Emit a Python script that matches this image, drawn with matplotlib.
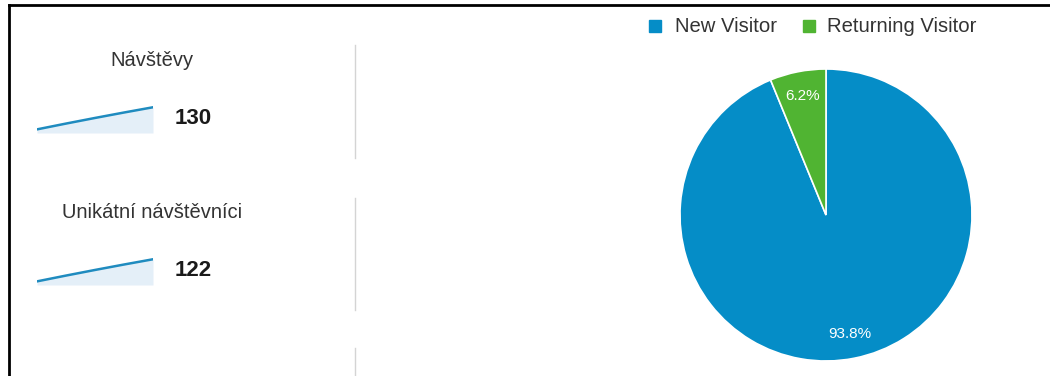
import matplotlib.pyplot as plt
from matplotlib.lines import Line2D
from matplotlib.patches import Rectangle

# data
metric_names = ['Návštěvy', 'Unikátní návštěvníci']
metric_totals = [130, 122]
spark_visits = [2, 5.2, 8.3, 11.3, 14.2]
spark_unique = [2, 5.2, 8.3, 11.3, 14.2]
visitor_types = ['New Visitor', 'Returning Visitor']
visitor_share = [93.8, 6.2]
colors = ['#058dc7', '#50b432']

plt.rcParams['font.family'] = ['Liberation Sans', 'DejaVu Sans']

W, H = 1050, 376
fig = plt.figure(figsize=(W / 100, H / 100), dpi=100)
fig.patch.set_facecolor('white')


def fx(px):
    return px / W


def fy(py):
    return 1 - py / H


# frame on top and left
fig.add_artist(Line2D([fx(9), 1], [fy(5), fy(5)], color='black', lw=2))
fig.add_artist(Line2D([fx(9), fx(9)], [fy(5), 0], color='black', lw=2))

# grey separators
for y0, y1 in [(45, 158), (198, 310), (348, 376)]:
    fig.add_artist(Line2D([fx(355), fx(355)], [fy(y0), fy(y1)], color='#d4d4d4', lw=1))

# sparkline blocks
rows = [(60, 118, 133), (212, 270, 285)]
for name, total, series, (ty, vy, sb) in zip(metric_names, metric_totals,
                                             [spark_visits, spark_unique], rows):
    fig.text(fx(152), fy(ty), name, ha='center', va='center', fontsize=14.5, color='#333333')
    fig.text(fx(175), fy(vy), str(total), ha='left', va='center', fontsize=16,
             fontweight='bold', color='#1a1a1a')
    sax = fig.add_axes([fx(37), fy(sb), fx(153) - fx(37), fy(sb - 29) - fy(sb)])
    x = range(len(series))
    sax.fill_between(x, series, 0, color='#e4eff8', lw=0)
    sax.plot(x, series, color='#1f8bbf', lw=1.8, solid_capstyle='round')
    sax.set_xlim(0, len(series) - 1)
    sax.set_ylim(0, 16)
    sax.axis('off')

# pie
cx, cy, r = 826, 215, 146
pax = fig.add_axes([fx(cx - r), fy(cy + r), 2 * r / W, 2 * r / H])
pax.pie(visitor_share, colors=colors, startangle=90, counterclock=False,
        autopct='%1.1f%%', pctdistance=0.83,
        wedgeprops=dict(edgecolor='white', linewidth=1.2),
        textprops=dict(color='white', fontsize=11))
pax.set_xlim(-1, 1)
pax.set_ylim(-1, 1)
pax.set_aspect('equal')
pax.axis('off')

# legend
legend_items = [(649, 675), (803, 827)]
for (sx, tx), label, c in zip(legend_items, visitor_types, colors):
    fig.add_artist(Rectangle((fx(sx), fy(32)), fx(12), 12 / H, color=c))
    fig.text(fx(tx), fy(26), label, ha='left', va='center', fontsize=14.6, color='#333333')

fig.savefig('out.png', dpi=100)
